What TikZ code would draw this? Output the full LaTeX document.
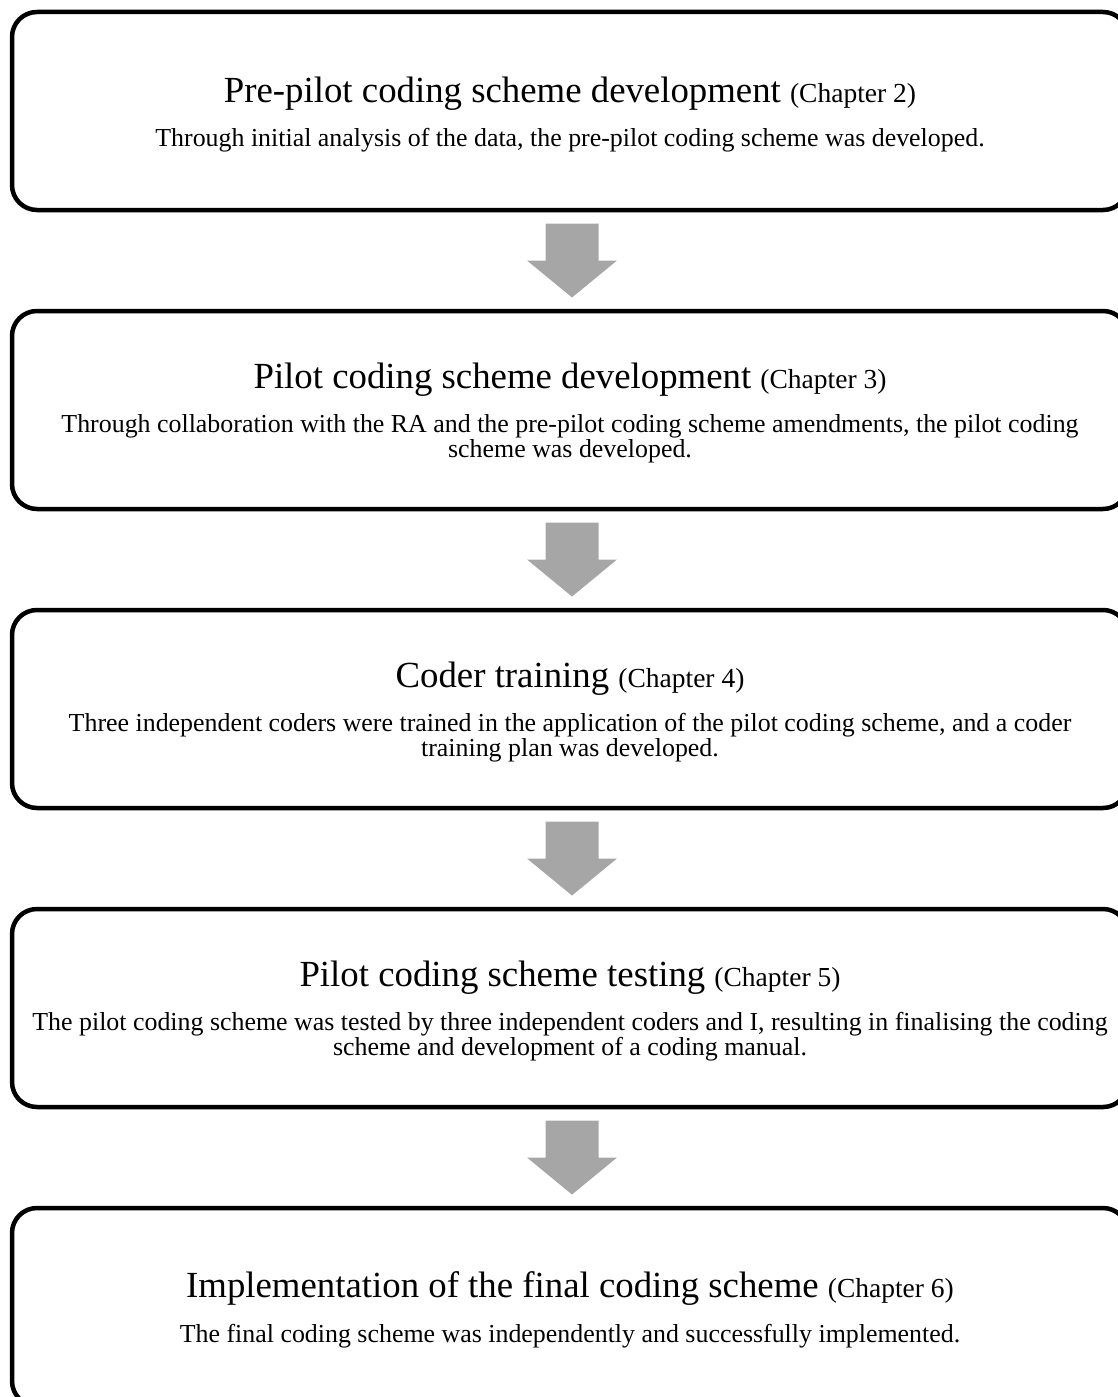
\documentclass[tikz,border=0pt]{standalone}
\usepackage{fontspec}
\setmainfont{Liberation Serif}
\usetikzlibrary{calc}
\definecolor{arrowgray}{HTML}{A6A6A6}
\tikzset{
  stagebox/.style={draw=black, line width=4.5pt, rounded corners=25pt,
    minimum width=1116pt, minimum height=198pt, inner sep=0pt},
  titletext/.style={anchor=base, inner sep=0pt, font=\fontsize{36.8}{41}\selectfont},
  bodytext/.style={anchor=base, inner sep=0pt, font=\fontsize{25.9}{28}\selectfont},
  blockarrow/.style={fill=arrowgray, draw=none},
}
\newcommand{\chapterref}[1]{{\fontsize{27.5}{30}\selectfont #1}}
\begin{document}
\begin{tikzpicture}[x=1pt, y={(0pt,-1pt)}]
\useasboundingbox (0,0) rectangle (1118,1397);
\clip (0,0) rectangle (1118,1397);

% boxes
\node[stagebox] (b1) at (570,111) {};
\node[stagebox] (b2) at (570,410) {};
\node[stagebox] (b3) at (570,709) {};
\node[stagebox] (b4) at (570,1008) {};
\node[stagebox] (b5) at (570,1307) {};

% box 1
\node[titletext] (t1) at (570,102) {Pre-pilot coding scheme development \chapterref{(Chapter 2)}};
\node[bodytext] (s1) at (570,146) {Through initial analysis of the data, the pre-pilot coding scheme was developed.};

% box 2
\node[titletext] (t2) at (570,388) {Pilot coding scheme development \chapterref{(Chapter 3)}};
\node[bodytext] (s2a) at (570,432) {Through collaboration with the RA and the pre-pilot coding scheme amendments, the pilot coding};
\node[bodytext] (s2b) at (570,457) {scheme was developed.};

% box 3
\node[titletext] (t3) at (570,687) {Coder training \chapterref{(Chapter 4)}};
\node[bodytext] (s3a) at (570,731) {Three independent coders were trained in the application of the pilot coding scheme, and a coder};
\node[bodytext] (s3b) at (570,756) {training plan was developed.};

% box 4
\node[titletext] (t4) at (570,986) {Pilot coding scheme testing \chapterref{(Chapter 5)}};
\node[bodytext] (s4a) at (570,1030) {The pilot coding scheme was tested by three independent coders and I, resulting in finalising the coding};
\node[bodytext] (s4b) at (570,1055) {scheme and development of a coding manual.};

% box 5
\node[titletext] (t5) at (570,1297) {Implementation of the final coding scheme \chapterref{(Chapter 6)}};
\node[bodytext] (s5) at (570,1342) {The final coding scheme was independently and successfully implemented.};

% block arrows between boxes
\coordinate (m1) at ($(b1.south)!0.5!(b2.north)$);
\coordinate (m2) at ($(b2.south)!0.5!(b3.north)$);
\coordinate (m3) at ($(b3.south)!0.5!(b4.north)$);
\coordinate (m4) at ($(b4.south)!0.5!(b5.north)$);
\foreach \m in {m1,m2,m3,m4}{
  \fill[blockarrow, shift={(\m)}, xshift=2pt]
    (-26.5,-37) -- (26.5,-37) -- (26.5,0) -- (45,0) -- (0,37) -- (-45,0) -- (-26.5,0) -- cycle;
}
\end{tikzpicture}
\end{document}
